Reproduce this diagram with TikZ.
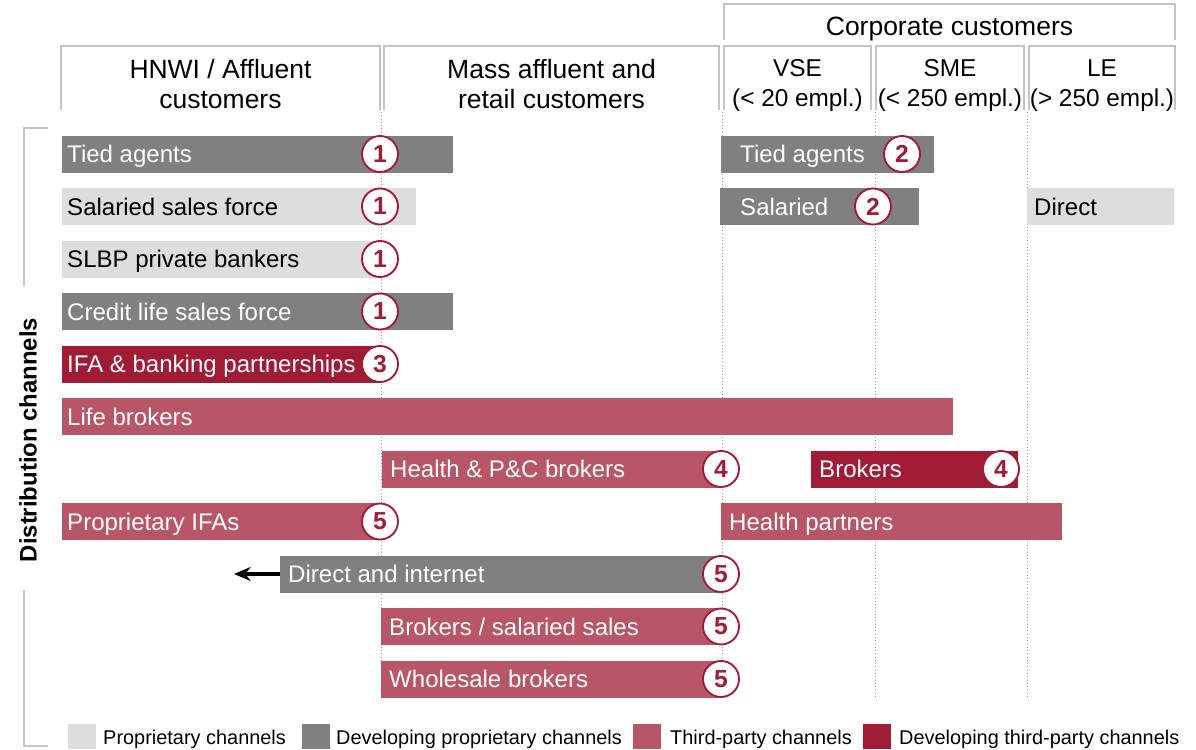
\documentclass[tikz,border=0pt]{standalone}
\usepackage{fontspec}
\setmainfont{Liberation Sans}
\usepackage{tikz}
\usetikzlibrary{arrows.meta}
\definecolor{propgray}{HTML}{DDDDDD}
\definecolor{devgray}{HTML}{808080}
\definecolor{thirdred}{HTML}{B85668}
\definecolor{devred}{HTML}{A01C36}
\definecolor{framegray}{HTML}{C4C4C4}
\tikzset{
  prop/.style     = {fill=propgray,text=black},
  devprop/.style  = {fill=devgray,text=white},
  third/.style    = {fill=thirdred,text=white},
  devthird/.style = {fill=devred,text=white},
  barlabel/.style = {anchor=base west,inner sep=0pt,font=\fontsize{20.5}{24}\selectfont},
  numring/.style  = {circle,draw=devred,fill=white,line width=1.6pt,minimum size=1.08cm,
                     inner sep=0pt,text=devred,font=\bfseries\fontsize{21}{24}\selectfont},
  headbox/.style  = {framegray,line width=1.6pt},
  headtext/.style = {align=center,font=\fontsize{22.6}{25.6}\selectfont},
  subhead/.style  = {align=center,font=\fontsize{20.8}{25.6}\selectfont},
  colsep/.style   = {gray!75,dotted,thick},
  legtext/.style  = {anchor=base west,inner sep=0pt,font=\fontsize{17}{20}\selectfont}
}
% one bar: [label inset], name, style, left, right, row centre, label
\newcommand{\chbar}[7][6]{%
  \path[#3] (#4,#6-18.5) rectangle (#5,#6+18.5);
  \coordinate (#2-w) at (#4,#6);
  \node[barlabel,#3,fill=none] (#2) at (#4+#1,#6+8.5) {#7};
}

\begin{document}
\begin{tikzpicture}[x=0.03cm,y=-0.03cm]
  \useasboundingbox (0,0) rectangle (1196,749);

  % column heads, open at the bottom
  \draw[headbox] (724,40) -- (724,4) -- (1175,4) -- (1175,40);
  \node[headtext] (corp) at (949.5,29) {Corporate customers};
  \draw[headbox] (61,110) -- (61,46) -- (380,46) -- (380,110);
  \draw[headbox] (384,110) -- (384,46) -- (719,46) -- (719,110);
  \draw[headbox] (724,110) -- (724,46) -- (871,46) -- (871,110);
  \draw[headbox] (876,110) -- (876,46) -- (1024,46) -- (1024,110);
  \draw[headbox] (1029,110) -- (1029,46) -- (1175,46) -- (1175,110);
  \node[headtext] (hnwi) at (220.5,84) {HNWI / Affluent\\customers};
  \node[headtext] (mass) at (551.5,84) {Mass affluent and\\retail customers};
  \node[subhead] (vse)  at (797.5,86) {VSE\\(< 20 empl.)};
  \node[subhead] (sme)  at (950,86)   {SME\\(< 250 empl.)};
  \node[subhead] (le)   at (1102,86)  {LE\\(> 250 empl.)};

  % segment borders run behind the bars
  \foreach \x in {381,722,875,1027}
    \draw[colsep] (\x,112) -- (\x,698);

  % side bracket
  \draw[headbox] (48,128) -- (24,128) -- (24,286);
  \draw[headbox] (24,590) -- (24,746) -- (48,746);
  \node[rotate=90,font=\bfseries\fontsize{20.4}{24}\selectfont] (dist) at (28,440) {Distribution channels};

  % channels, row by row
  \chbar[5]{tiedh}{devprop}{62}{453}{154}{Tied agents}
  \chbar[19]{tiedc}{devprop}{721}{934}{154}{Tied agents}
  \chbar[5]{salh}{prop}{62}{416}{206.5}{Salaried sales force}
  \chbar[20]{salc}{devprop}{720}{919}{206.5}{Salaried}
  \chbar[7]{directc}{prop}{1027}{1174}{206.5}{Direct}
  \chbar[5]{slbp}{prop}{62}{380}{259}{SLBP private bankers}
  \chbar[5]{credit}{devprop}{62}{453}{311.5}{Credit life sales force}
  \chbar[5]{ifa}{devthird}{62}{380}{364}{IFA \& banking partnerships}
  \chbar[5]{life}{third}{62}{953}{416.5}{Life brokers}
  \chbar[8]{health}{third}{382}{721}{469}{Health \& P\&C brokers}
  \chbar[8]{brokc}{devthird}{811}{1018}{469}{Brokers}
  \chbar[5]{propifa}{third}{62}{380}{521.5}{Proprietary IFAs}
  \chbar[8]{hpart}{third}{721}{1062}{521.5}{Health partners}
  \chbar[8]{dirnet}{devprop}{280}{721}{574}{Direct and internet}
  \chbar[8]{broksal}{third}{381}{721}{626.5}{Brokers / salaried sales}
  \chbar[8]{whole}{third}{381}{721}{679}{Wholesale brokers}

  % numbered notes
  \node[numring] (n-tiedh)   at (380,154)   {1};
  \node[numring] (n-tiedc)   at (902,154)   {2};
  \node[numring] (n-salh)    at (380,206.5) {1};
  \node[numring] (n-salc)    at (873,206.5) {2};
  \node[numring] (n-slbp)    at (380,259)   {1};
  \node[numring] (n-credit)  at (380,311.5) {1};
  \node[numring] (n-ifa)     at (380,364)   {3};
  \node[numring] (n-health)  at (721,469)   {4};
  \node[numring] (n-brokc)   at (1001,469)  {4};
  \node[numring] (n-propifa) at (380,521.5) {5};
  \node[numring] (n-dirnet)  at (721,574)   {5};
  \node[numring] (n-broksal) at (721,626.5) {5};
  \node[numring] (n-whole)   at (721,679)   {5};

  % direct channel reaching further up-market
  \coordinate (dirtip) at (234,574);
  \draw[-{Stealth[length=5mm,width=4.2mm]},line width=2.8pt] (dirnet-w) -- (dirtip);

  % legend
  \fill[propgray] (68,724) rectangle (96,749);
  \node[legtext] (lg1) at (103,744) {Proprietary channels};
  \fill[devgray] (302,724) rectangle (330,749);
  \node[legtext] (lg2) at (336,744) {Developing proprietary channels};
  \fill[thirdred] (633,724) rectangle (661,749);
  \node[legtext] (lg3) at (670,744) {Third-party channels};
  \fill[devred] (863,724) rectangle (891,749);
  \node[legtext] (lg4) at (899,744) {Developing third-party channels};
\end{tikzpicture}
\end{document}
